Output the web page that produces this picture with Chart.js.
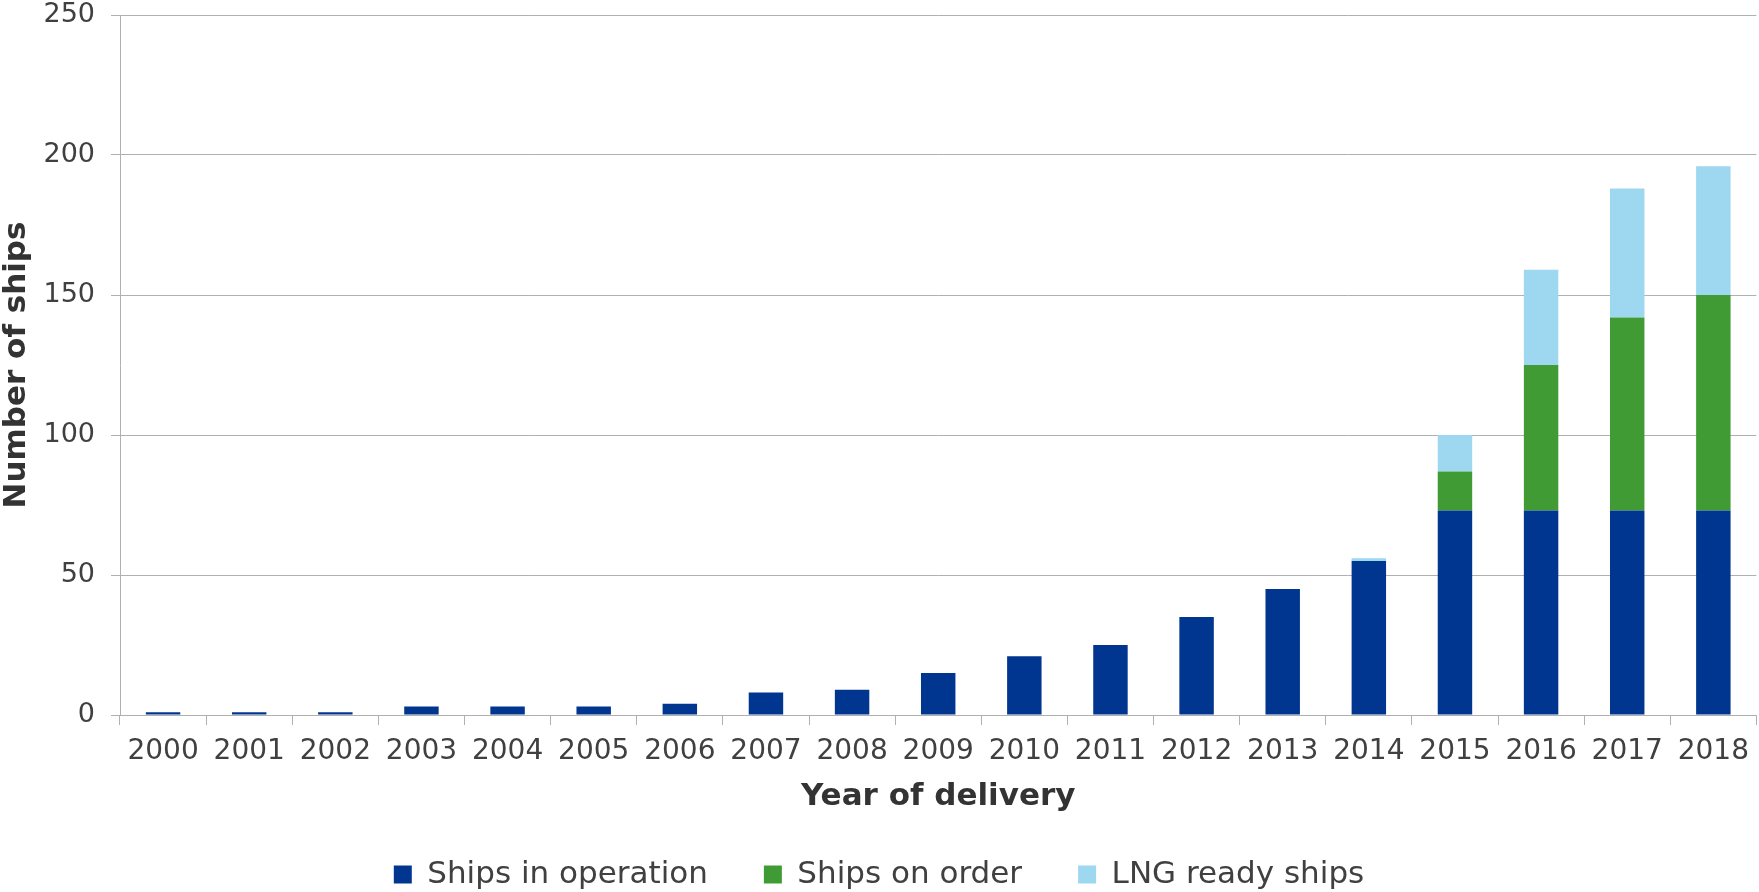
<!DOCTYPE html>
<html>
<head>
<meta charset="utf-8">
<title>LNG fuelled ships by year of delivery</title>
<script src="https://cdn.jsdelivr.net/npm/chart.js@4/dist/chart.umd.min.js"></script>
<style>
  html, body { margin: 0; padding: 0; background: #fff; overflow: hidden; }
  #wrap { width: 1759px; height: 900px; }
</style>
</head>
<body>
<div id="wrap"><canvas id="ships-chart" width="1759" height="900"></canvas></div>
<script>
// 1) Dados
const years = ['2000','2001','2002','2003','2004','2005','2006','2007','2008','2009',
               '2010','2011','2012','2013','2014','2015','2016','2017','2018'];
const inOperation = [1, 1, 1, 3, 3, 3, 4, 8, 9, 15, 21, 25, 35, 45, 55, 73, 73, 73, 73];
const onOrder     = [0, 0, 0, 0, 0, 0, 0, 0, 0, 0, 0, 0, 0, 0, 0, 14, 52, 69, 77];
const lngReady    = [0, 0, 0, 0, 0, 0, 0, 0, 0, 0, 0, 0, 0, 0, 1, 13, 34, 46, 46];
const yTicks = [0, 50, 100, 150, 200, 250];

// 2) Estilo
const FONT = 'DejaVu Sans';
const gridGray = '#b0b0b0';
const textGray = '#404040';

// 3) Chart
const ctx = document.getElementById('ships-chart').getContext('2d');
new Chart(ctx, {
  type: 'bar',
  data: {
    labels: years,
    datasets: [
      { label: 'Ships in operation', data: inOperation, backgroundColor: '#00368F' },
      { label: 'Ships on order', data: onOrder, backgroundColor: '#419B35' },
      { label: 'LNG ready ships', data: lngReady, backgroundColor: '#9DD7F0' }
    ]
  },
  options: {
    responsive: false,
    animation: false,
    layout: { padding: { top: 15, right: 1, bottom: 0, left: 0 } },
    datasets: { bar: { barPercentage: 0.4, categoryPercentage: 1, borderWidth: 0 } },
    scales: {
      x: {
        stacked: true,
        grid: { display: true, drawOnChartArea: false, offset: true, tickLength: 10, color: gridGray },
        border: { color: gridGray },
        ticks: { color: textGray, font: { family: FONT, size: 28 }, padding: 10, maxRotation: 0 },
        title: {
          display: true, text: 'Year of delivery', color: '#333',
          font: { family: FONT, size: 31, weight: 'bold', lineHeight: 1 },
          padding: { top: 0, bottom: -9 }
        },
        afterFit: s => { s.height = 88; }
      },
      y: {
        stacked: true,
        min: 0, max: 250,
        afterBuildTicks: s => { s.ticks = yTicks.map(v => ({ value: v })); },
        grid: { color: gridGray, tickLength: 9 },
        border: { color: gridGray },
        ticks: { color: textGray, font: { family: FONT, size: 27 }, padding: 16 },
        title: {
          display: true, text: 'Number of ships', color: '#333',
          font: { family: FONT, size: 31, weight: 'bold', lineHeight: 1.1 },
          padding: { top: 0, bottom: 0 }
        },
        afterFit: s => { s.width = 120; s.paddingTop = 15; s.paddingBottom = 15; }
      }
    },
    plugins: {
      legend: {
        position: 'bottom',
        labels: { color: textGray, font: { family: FONT, size: 31 }, boxWidth: 18, boxHeight: 18, padding: 56 }
      },
      tooltip: { enabled: false }
    }
  }
});
</script>
</body>
</html>
